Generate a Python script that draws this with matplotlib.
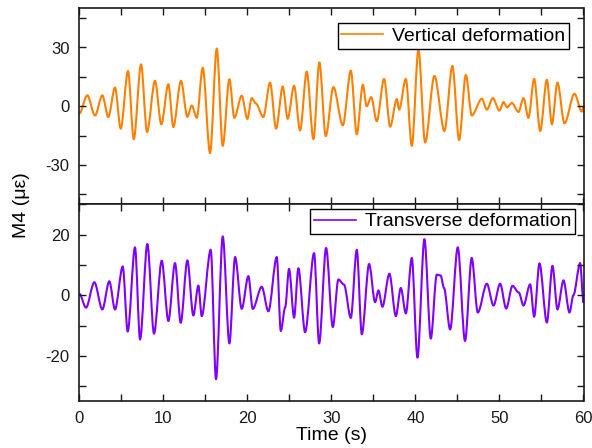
import matplotlib
matplotlib.use("Agg")
import matplotlib.pyplot as plt
from matplotlib.path import Path
from matplotlib.patches import PathPatch
from matplotlib.lines import Line2D
from matplotlib.ticker import MultipleLocator

plt.rcParams['font.family'] = ['Liberation Sans', 'DejaVu Sans']
plt.rcParams['axes.unicode_minus'] = False

# peaks / troughs, vertical deformation (top panel)
t_vert = [0.0, 0.95, 1.87, 2.74, 3.45, 4.25, 4.93, 5.8, 6.48, 7.35, 8.06, 9.01,
          9.76, 10.6, 11.19, 12.1, 12.86, 13.38, 13.98, 14.69, 15.56, 16.36,
          17.07, 17.86, 18.45, 19.33, 20.0, 20.52, 21.0, 21.9, 22.7, 23.42,
          24.21, 24.8, 25.56, 26.27, 27.07, 27.86, 28.57, 29.33, 30.24, 31.36,
          32.31, 33.02, 33.74, 34.2, 34.73, 35.4, 36.27, 36.99, 37.79, 38.06,
          38.86, 39.57, 40.36, 41.15, 42.26, 43.45, 44.4, 45.2, 46.0, 46.71,
          47.9, 48.5, 49.21, 50.0, 50.48, 50.9, 51.48, 52.26, 52.86, 53.45,
          54.13, 54.85, 55.64, 56.24, 56.9, 57.74, 58.93, 59.8, 60.0]
v_vert = [-3.8, 5.6, -4.7, 5.6, -5.5, 9.6, -11.4, 18.0, -16.8, 21.4, -13.1, 13.0,
          -9.2, 11.3, -10.6, 13.0, -5.4, 0.4, -5.9, 19.7, -23.9, 29.5,
          -20.2, 13.8, -5.9, 5.4, -6.4, 4.2, 1.5, -5.5, 12.1, -11.4,
          10.1, -6.4, 10.5, -12.3, 17.7, -16.8, 22.4, -15.2, 9.8, -9.7,
          18.2, -14.3, 11.0, 0.0, 4.7, -7.6, 14.0, -10.4, 3.7, -1.7,
          14.0, -20.2, 29.0, -18.5, 15.5, -12.6, 20.6, -17.2, 16.0, -4.7,
          3.9, -1.7, 4.2, -2.2, 2.2, -0.5, 1.7, -2.9, 4.2, -5.9,
          14.0, -12.6, 13.5, -9.2, 12.1, -8.7, 6.4, -2.7, 0.0]

# peaks / troughs, transverse deformation (bottom panel)
t_trans = [0.0, 0.8, 1.79, 2.74, 3.57, 4.25, 5.17, 5.76, 6.63, 7.23, 8.1, 8.89,
           9.81, 10.6, 11.39, 12.07, 12.86, 13.57, 14.17, 14.57, 15.64, 16.27,
           17.07, 17.86, 18.54, 19.33, 20.12, 20.64, 21.71, 22.5, 23.5, 23.98,
           24.5, 24.96, 25.56, 26.07, 26.87, 27.94, 28.54, 29.37, 30.17, 30.83,
           31.5, 32.31, 33.02, 33.62, 34.49, 35.2, 35.6, 36.07, 36.9, 37.67,
           38.26, 38.86, 39.57, 40.24, 41.07, 41.83, 42.54, 43.0, 43.4, 44.13,
           45.04, 45.9, 46.7, 47.42, 48.5, 49.29, 50.08, 50.8, 51.55, 52.3,
           52.86, 53.65, 54.13, 54.76, 55.64, 56.31, 56.9, 57.62, 58.33, 58.8,
           59.6, 60.0]
v_trans = [0.5, -4.1, 4.3, -4.7, 4.6, -4.7, 9.5, -12.0, 15.8, -14.6, 16.9, -12.7,
           11.4, -8.5, 10.6, -9.1, 11.5, -6.7, 3.2, -6.9, 15.0, -27.7,
           19.4, -15.9, 12.6, -4.5, 6.3, -4.5, 2.8, -5.3, 12.6, -11.8,
           -4.0, 8.7, -7.4, 8.9, -12.2, 13.9, -15.9, 15.6, -10.5, 5.2,
           3.5, -7.5, 15.0, -12.9, 10.3, -2.3, 1.6, -3.8, 7.1, -6.9,
           2.4, -6.0, 12.3, -20.6, 18.5, -14.3, 6.8, 6.5, 2.4, -11.3,
           15.8, -15.1, 12.3, -5.7, 3.8, -3.4, 3.8, -4.4, 3.1, 0.9,
           -3.4, 3.6, -7.1, 10.5, -9.0, 9.7, -4.7, 4.9, -5.7, 0.0,
           10.6, -2.5]


def wave(ax, t, v, color, label):
    # smooth curve through the extremes, flat tangent at each peak/trough
    verts = [(t[0], v[0])]
    codes = [Path.MOVETO]
    for i in range(1, len(t)):
        dt = t[i] - t[i - 1]
        verts += [(t[i - 1] + 0.32 * dt, v[i - 1]), (t[i] - 0.32 * dt, v[i]), (t[i], v[i])]
        codes += [Path.CURVE4] * 3
    ax.add_patch(PathPatch(Path(verts, codes), facecolor='none', edgecolor=color,
                           lw=1.5, joinstyle='round'))
    return Line2D([], [], color=color, lw=1.2, label=label)


fig = plt.figure(figsize=(5.92, 4.48), dpi=100)
W, H = 592.0, 448.0
ax1 = fig.add_axes([79.3 / W, 1 - 204.3 / H, 504.2 / W, 196.0 / H])
ax2 = fig.add_axes([79.3 / W, 1 - 401.3 / H, 504.2 / W, 197.0 / H], sharex=ax1)

h1 = wave(ax1, t_vert, v_vert, '#ff8000', 'Vertical deformation')
h2 = wave(ax2, t_trans, v_trans, '#8000ff', 'Transverse deformation')

ax1.set_xlim(0, 60)
ax1.set_ylim(-50, 50)
ax2.set_ylim(-35, 30)
ax1.yaxis.set_major_locator(MultipleLocator(30))
ax1.yaxis.set_minor_locator(MultipleLocator(15))
ax2.yaxis.set_major_locator(MultipleLocator(20))
ax2.yaxis.set_minor_locator(MultipleLocator(10))
ax2.xaxis.set_major_locator(MultipleLocator(10))
ax2.xaxis.set_minor_locator(MultipleLocator(5))

for ax in (ax1, ax2):
    ax.tick_params(which='both', direction='in', top=True, right=True,
                   labelsize=12, width=1.0, length=5, pad=7, colors='#1a1a1a')
    for s in ax.spines.values():
        s.set_linewidth(1.2)
        s.set_color('#1a1a1a')
ax1.tick_params(labelbottom=False)

ax2.set_xlabel('Time (s)', fontsize=14, labelpad=1)
fig.text(0.036, 1 - 205 / H, 'M4 (με)', rotation=90, fontsize=14,
         va='center', ha='center')

leg_kw = dict(loc='upper right', borderaxespad=0, fancybox=False, framealpha=1,
              edgecolor='black', fontsize=14, handlelength=2.15,
              borderpad=0.2, handletextpad=0.45)
l1 = ax1.legend(handles=[h1], bbox_to_anchor=(1 - 14.5 / 504, 1 - 15 / 196), **leg_kw)
l2 = ax2.legend(handles=[h2], bbox_to_anchor=(1 - 8.5 / 504, 1 - 4.7 / 197), **leg_kw)
for l in (l1, l2):
    l.get_frame().set_linewidth(1.0)

fig.savefig('out.png', dpi=100)
